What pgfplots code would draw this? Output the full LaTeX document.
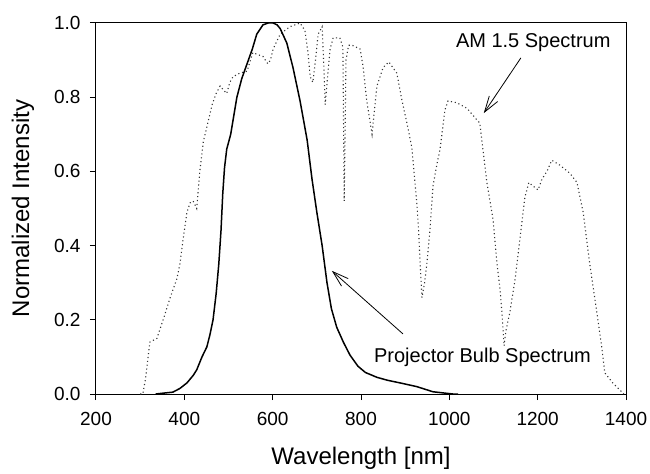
\documentclass[border=0pt]{standalone}
\usepackage{fontspec}
\setmainfont{Liberation Sans}
\usepackage{pgfplots}
\pgfplotsset{compat=1.18}
\usetikzlibrary{arrows.meta}

\pgfplotstableread{
x y
335 0
350 0.002
374 0.005
390 0.015
406 0.03
420 0.05
428 0.065
440 0.10
451 0.127
458 0.16
465 0.2
472 0.27
478 0.35
483 0.44
487 0.54
491 0.61
496 0.66
505 0.70
519 0.80
530 0.85
542 0.89
554 0.93
564 0.97
578 0.995
590 1.0
601 1.0
610 0.995
617 0.985
632 0.946
646 0.88
662 0.79
678 0.685
689 0.58
700 0.49
712 0.40
723 0.30
733 0.23
745 0.18
760 0.14
775 0.105
793 0.075
810 0.058
836 0.045
860 0.037
888 0.03
926 0.02
963 0.006
1008 0.0
1020 0
}\bulb

\pgfplotstableread{
x y
300 0
306 0.0
312 0.04
316 0.08
322 0.14
338 0.15
352 0.2
368 0.26
383 0.31
390 0.35
397 0.415
406 0.49
413 0.515
420 0.52
428 0.50
435 0.60
443 0.68
451 0.72
463 0.78
472 0.81
481 0.83
488 0.82
496 0.81
503 0.84
510 0.855
526 0.865
542 0.87
555 0.92
566 0.915
578 0.91
589 0.89
595 0.90
601 0.93
617 0.97
639 0.99
662 1.0
673 0.98
680 0.92
685 0.855
691 0.84
697 0.9
703 0.97
712 0.99
716 0.88
719 0.78
724 0.85
730 0.93
737 0.96
752 0.96
759 0.935
762 0.52
766 0.9
772 0.94
780 0.94
798 0.93
805 0.88
813 0.79
825 0.70
830 0.76
836 0.83
850 0.88
863 0.895
881 0.865
893 0.79
904 0.73
915 0.665
926 0.52
930 0.45
934 0.35
938 0.26
944 0.30
949 0.35
956 0.44
963 0.56
972 0.62
979 0.66
990 0.765
997 0.79
1017 0.785
1040 0.77
1058 0.745
1069 0.73
1076 0.66
1085 0.57
1092 0.52
1099 0.47
1108 0.35
1115 0.28
1119 0.22
1124 0.13
1128 0.17
1137 0.22
1149 0.31
1160 0.42
1171 0.53
1180 0.57
1190 0.56
1201 0.55
1210 0.58
1221 0.60
1232 0.63
1250 0.617
1273 0.595
1289 0.57
1303 0.49
1318 0.35
1334 0.22
1345 0.127
1352 0.057
1370 0.03
1391 0.005
1395 0
}\amspec

\begin{document}
\begin{tikzpicture}
\useasboundingbox (-96bp,-80bp) rectangle (554bp,394bp);
\begin{axis}[
  scale only axis, width=530bp, height=371bp,
  at={(0,0)}, anchor=south west,
  xmin=200, xmax=1400, ymin=0, ymax=1,
  xtick={200,400,600,800,1000,1200,1400},
  ytick={0,0.2,0.4,0.6,0.8,1.0},
  /pgf/number format/assume math mode=true,
  yticklabel style={/pgf/number format/.cd, fixed, fixed zerofill, precision=1, /tikz/.cd, xshift=-6bp},
  xticklabel style={/pgf/number format/.cd, 1000 sep={}, /tikz/.cd, yshift=-9bp},
  ticklabel style={font=\fontsize{19bp}{22bp}\selectfont},
  tick pos=left, tick align=outside, major tick length=6bp,
  major tick style={line width=1bp, black},
  axis line style={line width=1bp, black},
  xlabel={Wavelength [nm]}, ylabel={Normalized Intensity},
  label style={font=\fontsize{24bp}{28bp}\selectfont},
  xlabel style={at={(axis description cs:0.5,-0.1725)}, anchor=center},
  ylabel style={at={(axis description cs:-0.1377,0.5)}, anchor=center},
  clip=false,
]
\addplot[black!80, line width=1.1bp, dash pattern=on 1.1bp off 2.8bp] table {\amspec};
\addplot[black, line width=1.5bp] table {\bulb};
\node[font=\fontsize{20bp}{24bp}\selectfont] at (axis cs:1190,0.946) {AM 1.5 Spectrum};
\node[font=\fontsize{20bp}{24bp}\selectfont] at (axis cs:1075,0.10) {Projector Bulb Spectrum};
\draw[-{Straight Barb[length=16bp,width=10bp]}, line width=0.8bp] (axis cs:1162,0.906) -- (axis cs:1078,0.757);
\draw[-{Straight Barb[length=16bp,width=10bp]}, line width=0.8bp] (axis cs:895,0.162) -- (axis cs:734,0.332);
\end{axis}
\end{tikzpicture}
\end{document}
